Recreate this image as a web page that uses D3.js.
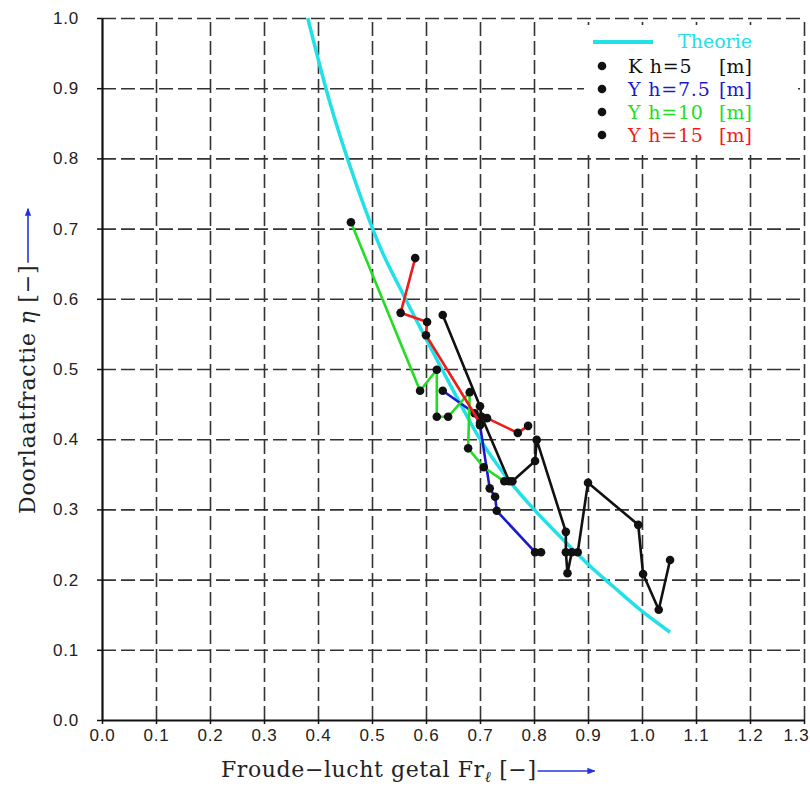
<!DOCTYPE html>
<html>
<head>
<meta charset="utf-8">
<script src="https://cdn.jsdelivr.net/npm/d3@7"></script>
<style>
  body { margin: 0; background: #fff; }
  .tick text { font-family: "Liberation Sans", Arial, sans-serif; font-size: 17px; letter-spacing: 0.8px; fill: #222; }
</style>
</head>
<body>
<script>
// theory curve
const theoryFr  = [0.381, 0.42, 0.47, 0.52, 0.552, 0.60, 0.65, 0.70, 0.75, 0.80, 0.85, 0.90, 0.95, 1.00, 1.052];
const theoryEta = [1.00, 0.885, 0.765, 0.665, 0.615, 0.543, 0.47, 0.40, 0.345, 0.30, 0.26, 0.222, 0.188, 0.155, 0.125];

// measurements per water depth
const k5Fr  = [0.631, 0.700, 0.703, 0.754, 0.760, 0.802, 0.805, 0.859, 0.859, 0.862, 0.870, 0.881, 0.900, 0.993, 1.002, 1.031, 1.052];
const k5Eta = [0.577, 0.447, 0.432, 0.340, 0.340, 0.369, 0.399, 0.268, 0.239, 0.209, 0.239, 0.239, 0.338, 0.278, 0.208, 0.157, 0.228];

const y75Fr  = [0.631, 0.690, 0.700, 0.718, 0.728, 0.731, 0.802, 0.813];
const y75Eta = [0.469, 0.437, 0.420, 0.330, 0.318, 0.298, 0.239, 0.239];

const y10Fr  = [0.461, 0.589, 0.620, 0.620, 0.641, 0.681, 0.678, 0.707, 0.745];
const y10Eta = [0.709, 0.469, 0.499, 0.432, 0.432, 0.467, 0.387, 0.360, 0.340];

const y15Fr  = [0.580, 0.553, 0.602, 0.600, 0.700, 0.713, 0.770, 0.789];
const y15Eta = [0.658, 0.580, 0.567, 0.548, 0.423, 0.430, 0.409, 0.419];

const xTicks = d3.range(0, 14).map(i => i / 10);
const yTicks = d3.range(0, 11).map(i => i / 10);

const series = [
  {name: "K h=5", color: "#111111", fr: k5Fr, eta: k5Eta},
  {name: "Y h=7.5", color: "#1a1acc", fr: y75Fr, eta: y75Eta},
  {name: "Y h=10", color: "#22dd22", fr: y10Fr, eta: y10Eta},
  {name: "Y h=15", color: "#ee1c1c", fr: y15Fr, eta: y15Eta}
];

const W = 810, H = 787;
const margin = {top: 18, right: 6, bottom: 67, left: 102};
const width = W - margin.left - margin.right,
      height = H - margin.top - margin.bottom;

const svg = d3.select("body").append("svg")
  .attr("width", W)
  .attr("height", H);

const defs = svg.append("defs");
defs.append("marker")
  .attr("id", "arrow")
  .attr("viewBox", "0 0 10 10")
  .attr("refX", 9).attr("refY", 5)
  .attr("markerWidth", 5).attr("markerHeight", 5)
  .attr("markerUnits", "strokeWidth")
  .attr("orient", "auto")
  .append("path").attr("d", "M0,1 L10,5 L0,9 Z").attr("fill", "#2233dd");

const g = svg.append("g").attr("transform", `translate(${margin.left},${margin.top})`);

const x = d3.scaleLinear().domain([0, 1.3]).range([0, width]);
const y = d3.scaleLinear().domain([0, 1.0]).range([height, 0]);

// dashed grid
g.append("g")
  .attr("transform", `translate(0,${height})`)
  .call(d3.axisBottom(x).tickValues(xTicks.slice(1)).tickSize(-height).tickFormat(""))
  .call(a => a.select(".domain").remove())
  .selectAll("line").attr("stroke", "#333").attr("stroke-width", 1.6).attr("stroke-dasharray", "14,5");

g.append("g")
  .call(d3.axisLeft(y).tickValues(yTicks.slice(1)).tickSize(-width).tickFormat(""))
  .call(a => a.select(".domain").remove())
  .selectAll("line").attr("stroke", "#333").attr("stroke-width", 1.6).attr("stroke-dasharray", "14,5");

// axes
const xAxis = g.append("g")
  .attr("transform", `translate(0,${height})`)
  .call(d3.axisBottom(x).tickValues(xTicks).tickSize(4).tickSizeOuter(0).tickPadding(5).tickFormat(d3.format(".1f")));
const yAxis = g.append("g")
  .call(d3.axisLeft(y).tickValues(yTicks).tickSize(5).tickSizeOuter(0).tickPadding(18).tickFormat(d3.format(".1f")));
[xAxis, yAxis].forEach(a => {
  a.select(".domain").attr("stroke", "#111").attr("stroke-width", 2.2);
  a.selectAll(".tick line").attr("stroke", "#111").attr("stroke-width", 1.5);
});
// last x label sits at the edge of the window
xAxis.selectAll(".tick text").filter(d => d === 1.3).attr("dx", -8);

// theory line
const theory = theoryFr.map((f, i) => [f, theoryEta[i]]);
g.append("path")
  .datum(theory)
  .attr("fill", "none")
  .attr("stroke", "#22e0e8")
  .attr("stroke-width", 3.5)
  .attr("d", d3.line().x(d => x(d[0])).y(d => y(d[1])).curve(d3.curveMonotoneX));

// measured series
const line = d3.line().x(d => x(d[0])).y(d => y(d[1]));
series.forEach(s => {
  const pts = s.fr.map((f, i) => [f, s.eta[i]]);
  g.append("path").datum(pts)
    .attr("fill", "none").attr("stroke", s.color)
    .attr("stroke-width", 2.6).attr("stroke-linejoin", "round")
    .attr("d", line);
  g.selectAll(null).data(pts).enter().append("circle")
    .attr("cx", d => x(d[0])).attr("cy", d => y(d[1]))
    .attr("r", 4.3).attr("fill", "#111");
});

// legend (white box hides the grid)
const lg = svg.append("g").attr("font-family", "'DejaVu Serif', serif").attr("font-size", 19);
lg.append("rect").attr("x", 584).attr("y", 25).attr("width", 214).attr("height", 125).attr("fill", "#fff");
lg.append("line").attr("x1", 593).attr("x2", 653).attr("y1", 42).attr("y2", 42)
  .attr("stroke", "#22e0e8").attr("stroke-width", 4);
lg.append("text").attr("x", 678).attr("y", 48).attr("fill", "#22e0e8").text("Theorie");
series.forEach((s, i) => {
  const yy = 66 + i * 23;
  lg.append("circle").attr("cx", 602).attr("cy", yy).attr("r", 4.3).attr("fill", "#111");
  lg.append("text").attr("x", 628).attr("y", yy + 7).attr("fill", s.color)
    .attr("letter-spacing", 0.8).text(s.name);
  lg.append("text").attr("x", 719).attr("y", yy + 7).attr("fill", s.color).text("[m]");
});

// x title
const xt = svg.append("text")
  .attr("x", 221).attr("y", 777)
  .attr("font-family", "'DejaVu Serif', serif").attr("font-size", 22)
  .attr("letter-spacing", 0.6).attr("fill", "#222");
xt.append("tspan").text("Froude\u2212lucht getal Fr");
xt.append("tspan").attr("dy", 5).attr("font-size", 15).attr("font-style", "italic").text("\u2113");
xt.append("tspan").attr("dy", -5).text(" [\u2212]");
const xb = xt.node().getBBox();
svg.append("line")
  .attr("x1", xb.x + xb.width + 1).attr("x2", xb.x + xb.width + 58)
  .attr("y1", 771).attr("y2", 771)
  .attr("stroke", "#2233dd").attr("stroke-width", 1.6).attr("marker-end", "url(#arrow)");

// y title
const yt = svg.append("text")
  .attr("transform", "translate(35,514) rotate(-90)")
  .attr("font-family", "'DejaVu Serif', serif").attr("font-size", 22)
  .attr("letter-spacing", 0.8).attr("fill", "#222");
yt.append("tspan").text("Doorlaatfractie ");
yt.append("tspan").attr("font-style", "italic").text("\u03b7");
yt.append("tspan").text(" [\u2212]");
const yl = yt.node().getComputedTextLength();
svg.append("line")
  .attr("x1", 28).attr("x2", 28)
  .attr("y1", 514 - yl - 2).attr("y2", 514 - yl - 56)
  .attr("stroke", "#2233dd").attr("stroke-width", 1.6).attr("marker-end", "url(#arrow)");
</script>
</body>
</html>
